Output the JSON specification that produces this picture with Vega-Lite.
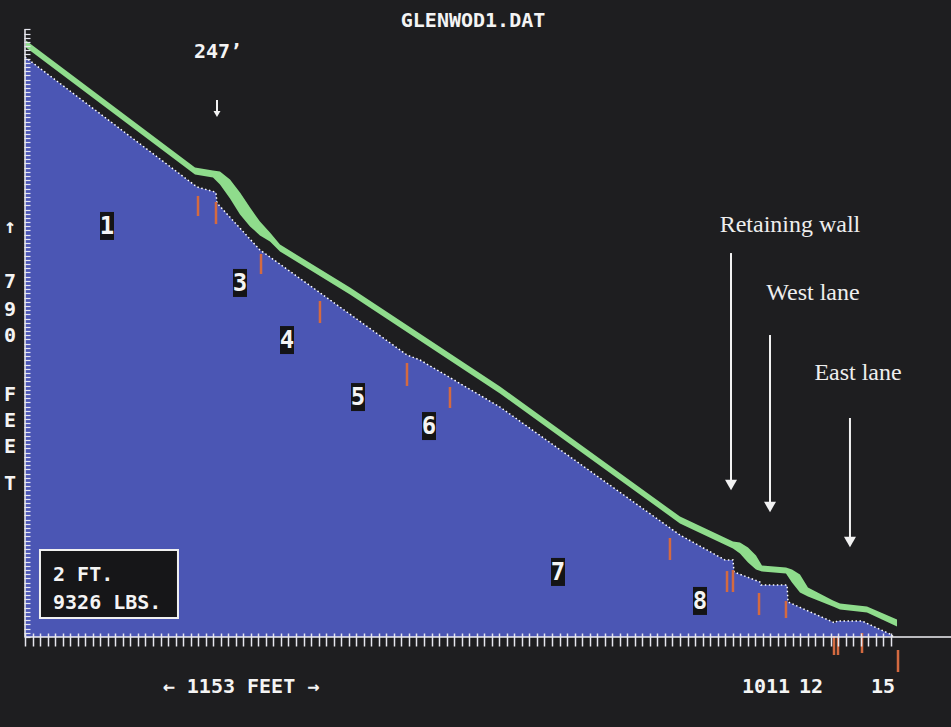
{
  "$schema": "https://vega.github.io/schema/vega-lite/v6.json",
  "width": 926,
  "height": 637,
  "autosize": {"type": "none"},
  "padding": {"left": 25, "top": 0, "right": 0, "bottom": 90},
  "background": "#1e1e20",
  "config": {"view": {"stroke": null}},
  "encoding": {
    "x": {"field": "x", "type": "quantitative",
      "scale": {"domain": [0, 1230], "nice": false, "zero": false},
      "axis": {"title": null, "labels": false, "domain": false, "grid": false, "zindex": 1,
        "tickColor": "#e6e6ee", "tickSize": 13, "tickWidth": 1.5, "offset": -4,
        "values": [0,10,20,30,40,50,60,70,80,90,100,110,120,130,140,150,160,170,180,190,200,210,220,230,240,250,260,270,280,290,300,310,320,330,340,350,360,370,380,390,400,410,420,430,440,450,460,470,480,490,500,510,520,530,540,550,560,570,580,590,600,610,620,630,640,650,660,670,680,690,700,710,720,730,740,750,760,770,780,790,800,810,820,830,840,850,860,870,880,890,900,910,920,930,940,950,960,970,980,990,1000,1010,1020,1030,1040,1050,1060,1070,1080,1090,1100,1110,1120,1130,1140,1150]}},
    "y": {"field": "y", "type": "quantitative",
      "scale": {"domain": [0, 760], "nice": false, "zero": false},
      "axis": {"title": null, "labels": false, "domain": false, "grid": false, "zindex": 1,
        "tickColor": "#e6e6ee", "tickSize": 6, "tickWidth": 1.2, "offset": -5,
        "values": [0,5,10,15,20,25,30,35,40,45,50,55,60,65,70,75,80,85,90,95,100,105,110,115,120,125,130,135,140,145,150,155,160,165,170,175,180,185,190,195,200,205,210,215,220,225,230,235,240,245,250,255,260,265,270,275,280,285,290,295,300,305,310,315,320,325,330,335,340,345,350,355,360,365,370,375,380,385,390,395,400,405,410,415,420,425,430,435,440,445,450,455,460,465,470,475,480,485,490,495,500,505,510,515,520,525,530,535,540,545,550,555,560,565,570,575,580,585,590,595,600,605,610,615,620,625,630,635,640,645,650,655,660,665,670,675,680,685,690,695,700,705,710,715,720,725]}}
  },
  "datasets": {
    "profile": [
      {"x": 0, "y": 692.0}, {"x": 228.5, "y": 536.9}, {"x": 252.4, "y": 530.9}, {"x": 253.7, "y": 529.7},
      {"x": 255.0, "y": 517.8}, {"x": 312.1, "y": 461.7}, {"x": 316.1, "y": 459.3}, {"x": 507.4, "y": 336.5},
      {"x": 524.7, "y": 330.5}, {"x": 630.9, "y": 274.4}, {"x": 870.0, "y": 121.7}, {"x": 929.8, "y": 91.9},
      {"x": 940.4, "y": 91.9}, {"x": 941.8, "y": 77.6}, {"x": 976.3, "y": 65.6}, {"x": 977.6, "y": 62.0},
      {"x": 1012.2, "y": 62.0}, {"x": 1013.5, "y": 41.8}, {"x": 1075.9, "y": 16.7}, {"x": 1078.6, "y": 19.1},
      {"x": 1111.8, "y": 19.1}, {"x": 1151.6, "y": 2.4}, {"x": 1153.0, "y": 0}
    ],
    "surface": [
      {"x": 1.3, "y": 711.6, "y2": 703.4}, {"x": 225.8, "y": 560.1, "y2": 551.9}, {"x": 249.7, "y": 556.5, "y2": 548.3},
      {"x": 259.0, "y": 555.3, "y2": 540.0}, {"x": 272.3, "y": 545.7, "y2": 523.3}, {"x": 285.6, "y": 530.2, "y2": 504.2},
      {"x": 298.9, "y": 512.3, "y2": 489.9}, {"x": 312.1, "y": 495.6, "y2": 479.1}, {"x": 325.4, "y": 482.5, "y2": 472.0},
      {"x": 338.7, "y": 468.2, "y2": 460.0}, {"x": 431.7, "y": 416.9, "y2": 408.7},
      {"x": 630.9, "y": 298.8, "y2": 290.6}, {"x": 870.0, "y": 143.7, "y2": 135.5},
      {"x": 940.4, "y": 113.8, "y2": 105.7}, {"x": 949.7, "y": 112.7, "y2": 99.7}, {"x": 960.4, "y": 106.7, "y2": 89.0},
      {"x": 971.0, "y": 97.1, "y2": 80.6}, {"x": 978.9, "y": 85.2, "y2": 78.2}, {"x": 1010.8, "y": 82.8, "y2": 75.9},
      {"x": 1018.8, "y": 80.4, "y2": 65.1}, {"x": 1029.4, "y": 74.5, "y2": 53.2}, {"x": 1040.0, "y": 59.0, "y2": 48.4},
      {"x": 1073.3, "y": 43.5, "y2": 36.5}, {"x": 1082.6, "y": 39.9, "y2": 32.9}, {"x": 1118.4, "y": 36.3, "y2": 29.3},
      {"x": 1158.3, "y": 20.8, "y2": 12.6}
    ],
    "markers": [
      {"x": 229.8, "y": 526.2, "y2": 502.3}, {"x": 253.7, "y": 519.0, "y2": 492.7}, {"x": 313.5, "y": 457.0, "y2": 433.1},
      {"x": 391.8, "y": 400.9, "y2": 374.6}, {"x": 507.4, "y": 326.9, "y2": 299.5}, {"x": 564.5, "y": 298.3, "y2": 273.2},
      {"x": 856.7, "y": 118.1, "y2": 91.9}, {"x": 932.5, "y": 78.7, "y2": 53.7}, {"x": 940.4, "y": 79.9, "y2": 53.7},
      {"x": 975.0, "y": 52.5, "y2": 26.2}, {"x": 1010.8, "y": 43.0, "y2": 22.7}, {"x": 1074.6, "y": 1.2, "y2": -21.5},
      {"x": 1079.9, "y": 1.2, "y2": -21.5}, {"x": 1111.8, "y": 4.8, "y2": -19.1}, {"x": 1159.6, "y": -15.5, "y2": -41.8}
    ],
    "sections": [
      {"x": 108.9, "y": 490.4, "t": "1"}, {"x": 285.6, "y": 422.4, "t": "3"}, {"x": 348.0, "y": 354.3, "t": "4"},
      {"x": 442.3, "y": 286.3, "t": "5"}, {"x": 536.6, "y": 251.7, "t": "6"}, {"x": 708.0, "y": 77.6, "t": "7"},
      {"x": 896.6, "y": 43.0, "t": "8"}
    ]
  },
  "layer": [
    {"data": {"name": "profile"}, "mark": {"type": "area", "color": "#4b56b4", "opacity": 1}, "encoding": {"y2": {"datum": 0}}},
    {"data": {"name": "profile"}, "mark": {"type": "line", "color": "#ffffff", "strokeWidth": 1.5, "strokeDash": [1.5, 2.5]}, "encoding": {}},
    {"data": {"name": "surface"}, "mark": {"type": "area", "color": "#8fdc8c", "opacity": 1}, "encoding": {"y2": {"field": "y2"}}},
    {"data": {"name": "markers"}, "mark": {"type": "rule", "color": "#d46a40", "strokeWidth": 2.5}, "encoding": {"y2": {"field": "y2"}}},
    {"data": {"values": [{"x": 0, "y": 0, "y2": 725}]}, "mark": {"type": "rule", "color": "#f0f0f5", "strokeWidth": 1.5}, "encoding": {"y2": {"field": "y2"}}},
    {"data": {"values": [{"x": 0, "x2": 1230, "y": 0}]}, "mark": {"type": "rule", "color": "#f0f0f5", "strokeWidth": 1.5}, "encoding": {"x2": {"field": "x2"}}},
    {"data": {"name": "sections"}, "mark": {"type": "point", "shape": "M-0.5,-1H0.5V1H-0.5Z", "size": 784, "filled": true, "color": "#141416", "opacity": 1}, "encoding": {}},
    {"data": {"name": "sections"}, "mark": {"type": "text", "color": "#f4f4f4", "font": "DejaVu Sans Mono", "fontWeight": "bold", "fontSize": 24, "align": "center", "baseline": "middle", "dy": 1}, "encoding": {"text": {"field": "t"}}},
    {"data": {"values": [{"x": 19.9, "x2": 203.2, "y": 103.8, "y2": 22.7}]}, "mark": {"type": "rect", "color": "#161618", "stroke": "#f0f0f0", "strokeWidth": 2, "opacity": 1}, "encoding": {"x2": {"field": "x2"}, "y2": {"field": "y2"}}},
    {"data": {"values": [{"x": 37.2, "y": 74.0, "t": "2 FT."}, {"x": 37.2, "y": 40.6, "t": "9326 LBS."}]}, "mark": {"type": "text", "color": "#f4f4f4", "font": "DejaVu Sans Mono", "fontWeight": "bold", "fontSize": 20, "align": "left", "baseline": "middle"}, "encoding": {"text": {"field": "t"}}},
    {"data": {"values": [
      {"x": 595.1, "y": 734.9, "t": "GLENWOD1.DAT"},
      {"x": 256.4, "y": 698.0, "t": "247’"},
      {"x": 286.9, "y": -59.7, "t": "← 1153 FEET →"},
      {"x": 984.3, "y": -59.7, "t": "1011"},
      {"x": 1044.0, "y": -59.7, "t": "12"},
      {"x": 1139.7, "y": -59.7, "t": "15"},
      {"x": -19.9, "y": 489.2, "t": "↑"},
      {"x": -19.9, "y": 423.6, "t": "7"},
      {"x": -19.9, "y": 390.1, "t": "9"},
      {"x": -19.9, "y": 359.1, "t": "0"},
      {"x": -19.9, "y": 288.7, "t": "F"},
      {"x": -19.9, "y": 257.7, "t": "E"},
      {"x": -19.9, "y": 226.7, "t": "E"},
      {"x": -19.9, "y": 182.5, "t": "T"}
    ]}, "mark": {"type": "text", "color": "#f4f4f4", "font": "DejaVu Sans Mono", "fontWeight": "bold", "fontSize": 20, "align": "center", "baseline": "middle"}, "encoding": {"text": {"field": "t"}}},
    {"data": {"values": [
      {"x": 937.8, "y": 458.1, "y2": 184.9},
      {"x": 989.6, "y": 360.3, "y2": 157.5},
      {"x": 1095.8, "y": 261.3, "y2": 115.7}
    ]}, "mark": {"type": "rule", "color": "#f2f2f2", "strokeWidth": 2}, "encoding": {"y2": {"field": "y2"}}},
    {"data": {"values": [
      {"x": 937.8, "y": 181.4},
      {"x": 989.6, "y": 155.1},
      {"x": 1095.8, "y": 113.3}
    ]}, "mark": {"type": "point", "shape": "triangle-down", "size": 144, "filled": true, "color": "#f2f2f2", "opacity": 1}, "encoding": {}},
    {"data": {"values": [{"x": 255.0, "y": 640.7, "y2": 626.4}]}, "mark": {"type": "rule", "color": "#f2f2f2", "strokeWidth": 2}, "encoding": {"y2": {"field": "y2"}}},
    {"data": {"values": [{"x": 255.0, "y": 624.0}]}, "mark": {"type": "point", "shape": "triangle-down", "size": 49, "filled": true, "color": "#f2f2f2", "opacity": 1}, "encoding": {}},
    {"data": {"values": [
      {"x": 1016.1, "y": 491.6, "t": "Retaining wall"},
      {"x": 1046.7, "y": 410.4, "t": "West lane"},
      {"x": 1106.5, "y": 315.0, "t": "East lane"}
    ]}, "mark": {"type": "text", "color": "#eeeeee", "font": "Liberation Serif", "fontSize": 24, "align": "center", "baseline": "middle"}, "encoding": {"text": {"field": "t"}}}
  ]
}
